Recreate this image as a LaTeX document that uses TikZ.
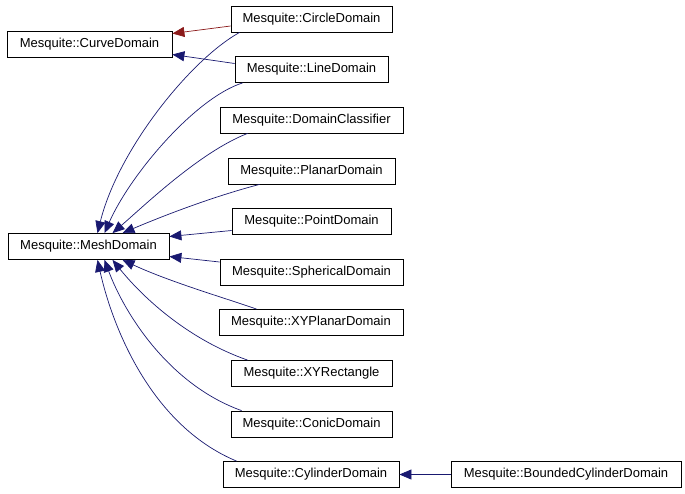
\documentclass[tikz,border=0pt]{standalone}
\usepackage{fontspec}
\setmainfont{Liberation Sans}
\usetikzlibrary{arrows.meta,calc}
\definecolor{mblue}{HTML}{191970}
\definecolor{fbred}{HTML}{8B1A1A}
\begin{document}
\begin{tikzpicture}[x=1pt,y=-1pt,
  cls/.style={draw=black,line width=0.8pt,rectangle,minimum height=26pt,inner sep=0pt,font=\fontsize{13}{15}\selectfont},
  edge/.style={draw=mblue,line width=0.7pt,-{Triangle[length=12pt,width=10pt]}},
  redge/.style={draw=fbred,line width=0.7pt,-{Triangle[length=12pt,width=10pt]}}]
\useasboundingbox (0,0) rectangle (685,493);
\node[cls,minimum width=165pt] (curve) at (89.5,44.5) {Mesquite::CurveDomain};
\node[cls,minimum width=161pt] (mesh) at (88.5,246.5) {Mesquite::MeshDomain};
\node[cls,minimum width=161pt] (circ) at (311.5,19) {Mesquite::CircleDomain};
\node[cls,minimum width=153pt] (line) at (311.5,69.5) {Mesquite::LineDomain};
\node[cls,minimum width=183pt] (dcls) at (311.5,120) {Mesquite::DomainClassifier};
\node[cls,minimum width=167pt] (plan) at (311.5,171) {Mesquite::PlanarDomain};
\node[cls,minimum width=159pt] (point) at (311.5,221.5) {Mesquite::PointDomain};
\node[cls,minimum width=183pt] (sph) at (311.5,272) {Mesquite::SphericalDomain};
\node[cls,minimum width=184pt] (xyp) at (311,322.5) {Mesquite::XYPlanarDomain};
\node[cls,minimum width=161pt] (xyr) at (311.5,373.5) {Mesquite::XYRectangle};
\node[cls,minimum width=161pt] (conic) at (311.5,424) {Mesquite::ConicDomain};
\node[cls,minimum width=176pt] (cyl) at (311,474.5) {Mesquite::CylinderDomain};
\node[cls,minimum width=230pt] (bcyl) at (566,474.5) {Mesquite::BoundedCylinderDomain};
% to CurveDomain
\draw[redge] ($(circ.west)+(0,7)$) -- ($(curve.east)+(0,-11)$);
\draw[edge] ($(line.west)+(0,-6)$) -- ($(curve.east)+(0,10)$);
% to MeshDomain (top)
\draw[edge] ($(circ.south west)+(9,0)$) .. controls (190,60) and (118,150) .. ($(mesh.north)+(9,0)$);
\draw[edge] ($(line.south west)+(8,0)$) .. controls (195,98) and (130,175) .. ($(mesh.north)+(16,0)$);
\draw[edge] ($(dcls.south west)+(28,0)$) .. controls (200,152) and (145,205) .. ($(mesh.north)+(24,0)$);
\draw[edge] ($(plan.south west)+(32,0)$) .. controls (215,196) and (165,215) .. ($(mesh.north)+(34,0)$);
\draw[edge] ($(point.west)+(0,9)$) -- ($(mesh.east)+(0,-10)$);
\draw[edge] ($(sph.west)+(0,-10)$) -- ($(mesh.east)+(0,10)$);
% to MeshDomain (bottom)
\draw[edge] ($(xyp.north west)+(38,0)$) .. controls (225,298) and (170,282) .. ($(mesh.south)+(34,0)$);
\draw[edge] ($(xyr.north west)+(17,0)$) .. controls (190,340) and (145,300) .. ($(mesh.south)+(24,0)$);
\draw[edge] ($(conic.north west)+(11,0)$) .. controls (170,385) and (125,315) .. ($(mesh.south)+(16,0)$);
\draw[edge] ($(cyl.north west)+(14,0)$) .. controls (150,425) and (112,325) .. ($(mesh.south)+(9,0)$);
% to CylinderDomain
\draw[edge] (bcyl.west) -- (cyl.east);
\end{tikzpicture}
\end{document}
